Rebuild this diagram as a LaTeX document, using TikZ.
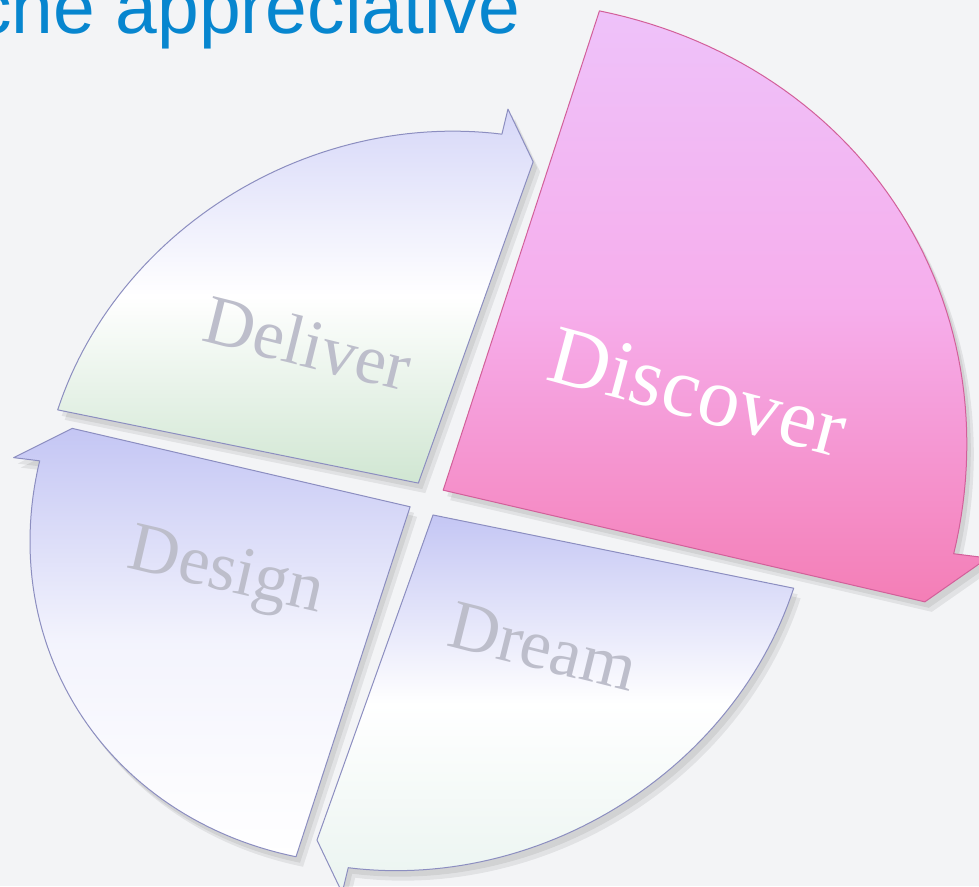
\documentclass[tikz,border=0pt]{standalone}
\usepackage{fontspec}
\setmainfont{Liberation Serif}
\newfontfamily\titlefont{Liberation Sans}
\definecolor{bgc}{HTML}{F3F4F6}
\definecolor{titleblue}{HTML}{0786CF}
\definecolor{lav}{HTML}{C4C6F4}
\definecolor{lavlight}{HTML}{D6D7F8}
\definecolor{mint}{HTML}{D0E6D2}
\definecolor{mintlight}{HTML}{EAF4F0}
\definecolor{pinktop}{HTML}{EEC2FA}
\definecolor{pinkmid}{HTML}{F6AEEC}
\definecolor{pinkbot}{HTML}{F47EB6}
\definecolor{edgeblue}{HTML}{8C8EC0}
\definecolor{edgepink}{HTML}{D2609A}
\definecolor{labelgray}{HTML}{BDBECB}
\tikzset{
  seglabel/.style={font=\fontsize{70}{80}\selectfont, inner sep=0pt},
  shadowA/.style={fill=black, opacity=0.07, xshift=4pt, yshift=-6pt},
  shadowB/.style={fill=black, opacity=0.07, xshift=7pt, yshift=-10pt},
}
% #1 a, #2 b (corner in frame), #3 start angle, #4 end angle, #5 Rx, #6 Ry,
% #7 barb extra, #8 tip inset, #9 options
\newcommand\segshape[9]{%
  \pgfmathsetmacro\bAng{#4+4.5}\pgfmathsetmacro\tAng{#4-1.6}%
  \pgfmathsetmacro\bRx{#5+#7}\pgfmathsetmacro\bRy{#6+#7}%
  \pgfmathsetmacro\tRx{#5-#8}\pgfmathsetmacro\tRy{#6-#8}%
  \path[#9] (#1,#2) -- plot[domain=#3:\bAng, samples=60, variable=\t]
    ({#1+#5*cos(\t)},{#2+#6*sin(\t)}) -- ({#1+\bRx*cos(\bAng)},{#2+\bRy*sin(\bAng)})
    -- ({#1+\tRx*cos(\tAng)},{#2+\tRy*sin(\tAng)}) -- cycle;%
}
\begin{document}
\begin{tikzpicture}[x=1pt,y=-1pt]
\useasboundingbox (0,0) rectangle (979,886);
\clip (0,0) rectangle (979,886);
\fill[bgc] (0,0) rectangle (979,886);
\node[anchor=base west, text=titleblue, inner sep=0pt,
      font=\titlefont\fontsize{75}{90}\selectfont] (title) at (-26,33) {che appreciative};

\begin{scope}[shift={(427,495)}, x={(0.98pt,-0.199pt)}, y={(0.31pt,0.951pt)}]
  % shadows
  \segshape{-12}{10}{180}{90}{368}{362}{26}{22}{shadowA}
  \segshape{-12.5}{-15}{270}{180}{370}{368}{26}{22}{shadowA}
  \segshape{12}{-18.5}{360}{270}{368}{366}{26}{22}{shadowA}
  \segshape{14}{8}{90}{0}{510}{504}{34}{14}{shadowA}
  \segshape{-12}{10}{180}{90}{368}{362}{26}{22}{shadowB}
  \segshape{-12.5}{-15}{270}{180}{370}{368}{26}{22}{shadowB}
  \segshape{12}{-18.5}{360}{270}{368}{366}{26}{22}{shadowB}
  \segshape{14}{8}{90}{0}{510}{504}{34}{14}{shadowB}
  % Deliver
  \segshape{-12}{10}{180}{90}{368}{362}{26}{22}{top color=lavlight, bottom color=mint, middle color=white, draw=edgeblue, line width=1pt, line join=round}
  % Design
  \segshape{-12.5}{-15}{270}{180}{370}{368}{26}{22}{top color=lav, bottom color=white, middle color=white!80!lav, draw=edgeblue, line width=1pt, line join=round}
  % Dream
  \segshape{12}{-18.5}{360}{270}{368}{366}{26}{22}{top color=lav, bottom color=mintlight, middle color=white, draw=edgeblue, line width=1pt, line join=round}
  % Discover
  \segshape{14}{8}{90}{0}{510}{504}{34}{14}{top color=pinktop, bottom color=pinkbot, middle color=pinkmid, draw=edgepink, line width=1pt, line join=round}
\end{scope}

\node[seglabel, text=labelgray, rotate=-14] (deliver) at (308,343) {Deliver};
\node[seglabel, text=white, rotate=-15, font=\fontsize{84}{96}\selectfont] (discover) at (698,392) {Discover};
\node[seglabel, text=labelgray, rotate=-13] (design) at (226,575) {Design};
\node[seglabel, text=labelgray, rotate=-14] (dream) at (543,647) {Dream};
\end{tikzpicture}
\end{document}
